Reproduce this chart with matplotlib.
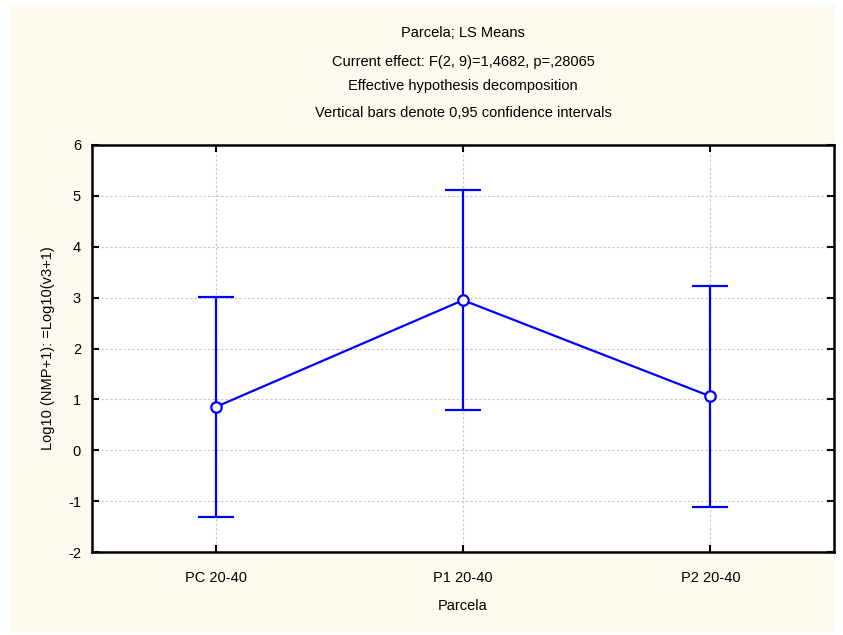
import numpy as np
import matplotlib
matplotlib.use("Agg")
import matplotlib.pyplot as plt
from matplotlib.patches import Rectangle

plt.rcParams['font.family'] = ['Liberation Sans', 'DejaVu Sans']
plt.rcParams['axes.unicode_minus'] = False

# LS means per plot with 0.95 confidence limits
parcelas = ["PC 20-40", "P1 20-40", "P2 20-40"]
means = [0.85, 2.95, 1.06]
upper = [3.01, 5.12, 3.22]
lower = [-1.31, 0.79, -1.11]

titles = ["Parcela; LS Means",
          "Current effect: F(2, 9)=1,4682, p=,28065",
          "Effective hypothesis decomposition",
          "Vertical bars denote 0,95 confidence intervals"]

fig = plt.figure(figsize=(8.43, 6.35), dpi=100, facecolor="white")
fig.patches.append(Rectangle((10 / 843, 2 / 635), 825 / 843, 628 / 635,
                             transform=fig.transFigure, facecolor="#FEF9EE",
                             edgecolor="none", zorder=-10))

ax = fig.add_axes([92 / 843, 83 / 635, 742 / 843, 407 / 635])
ax.set_zorder(1)
ax.set_facecolor("white")

x = np.arange(len(parcelas))
m = np.array(means)
yerr = [m - np.array(lower), np.array(upper) - m]
ax.errorbar(x, m, yerr=yerr, color="#0000FF", lw=1.6, elinewidth=1.6,
            capsize=13, capthick=1.6, marker="o", markersize=7.5,
            markerfacecolor="white", markeredgecolor="#0000FF",
            markeredgewidth=1.6, zorder=3)

ax.set_xlim(-0.5, 2.5)
ax.set_ylim(-2, 6)
ax.set_xticks(x)
ax.set_xticklabels(parcelas)
ax.set_yticks(np.arange(-2, 7, 1))
ax.grid(True, color="#C4C4C4", linestyle=(0, (2, 2)), linewidth=0.8)
ax.set_axisbelow(True)

ax.tick_params(direction="in", length=5, width=1.5, top=True, right=True,
               labelsize=10.5, colors="black")
ax.tick_params(axis="x", pad=14)
ax.tick_params(axis="y", pad=8)
for s in ax.spines.values():
    s.set_linewidth(1.8)
    s.set_color("black")

ax.set_xlabel("Parcela", fontsize=10.5, labelpad=10)
ax.set_ylabel("Log10 (NMP+1): =Log10(v3+1)", fontsize=10.5, labelpad=9)

ys = [33, 62, 86, 113]
for t, yy in zip(titles, ys):
    fig.text(463 / 843, 1 - yy / 635, t, ha="center", va="center", fontsize=10.5)

fig.savefig("out.png", dpi=100, facecolor=fig.get_facecolor())
